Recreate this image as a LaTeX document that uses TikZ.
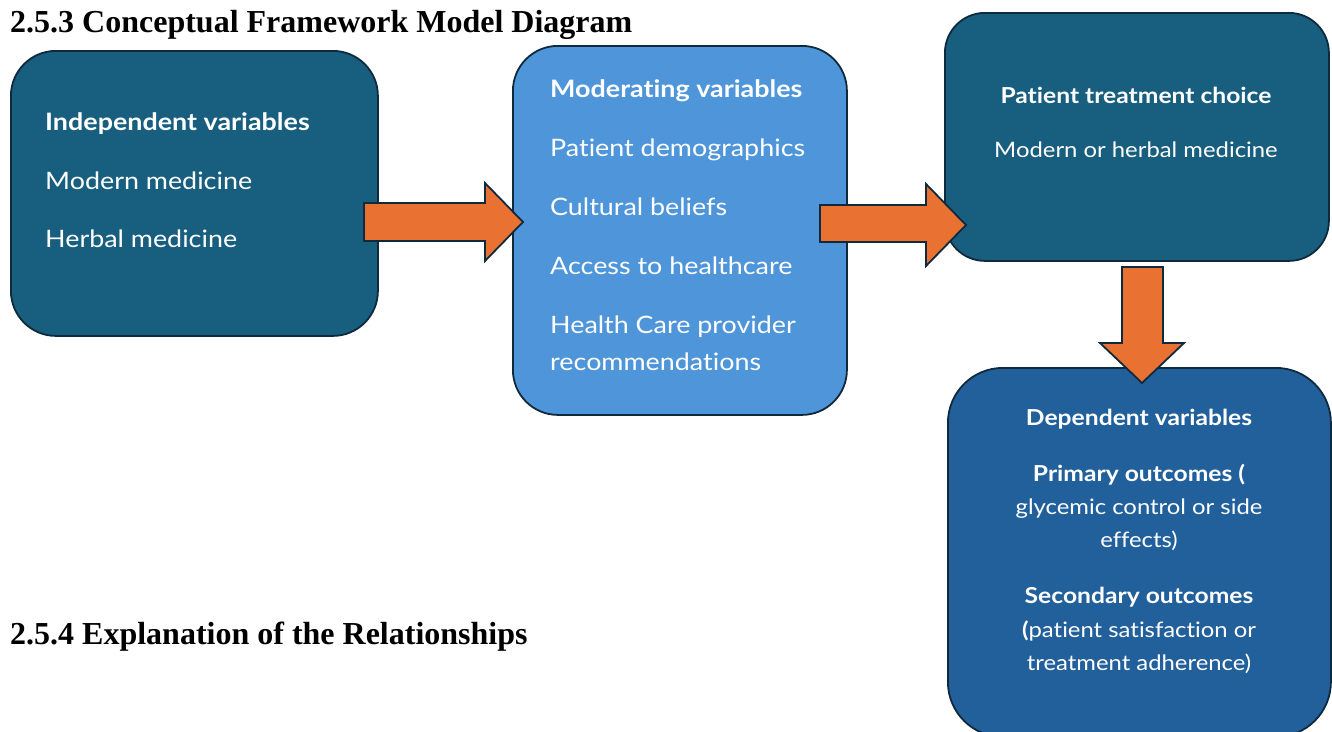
\documentclass[tikz,border=0pt]{standalone}
\usepackage{fontspec}
\setmainfont{Liberation Serif}
\newfontfamily\boxfont[FakeStretch=1.12, Ligatures=NoCommon]{Lato}
\begin{document}
\begin{tikzpicture}[x=1pt,y=-1pt]
\definecolor{tealbox}{HTML}{185E7F}
\definecolor{lightbox}{HTML}{4E95D9}
\definecolor{bluebox}{HTML}{22609C}
\definecolor{edgeline}{HTML}{0F2A3D}
\definecolor{arrowfill}{HTML}{E97132}
\tikzset{
  box/.style={draw=edgeline, line width=1.8pt, rounded corners=45pt, anchor=north west, inner sep=0pt},
  blockarrow/.style={draw=edgeline, line width=1.8pt, fill=arrowfill, line join=miter},
  txt/.style={text=white, inner sep=0pt, font=\boxfont\fontsize{24}{28}\selectfont},
  txtsm/.style={text=white, inner sep=0pt, font=\boxfont\fontsize{22}{26}\selectfont},
  txtsmreg/.style={text=white, inner sep=0pt, font=\boxfont\fontsize{21.3}{26}\selectfont},
  heading/.style={inner sep=0pt, anchor=base west, font=\bfseries\fontsize{32}{36}\selectfont}
}
\clip (0,0) rectangle (1332,731);
\fill[white] (0,0) rectangle (1332,731);

% section headings
\node[heading] (h1) at (10,32) {2.5.3 Conceptual Framework Model Diagram};
\node[heading] (h2) at (10,644) {2.5.4 Explanation of the Relationships};

% boxes
\node[box, fill=tealbox, minimum width=367pt, minimum height=285pt] (indep) at (10,50) {};
\node[box, fill=lightbox, minimum width=334pt, minimum height=369pt] (moder) at (512,45) {};
\node[box, fill=tealbox, rounded corners=40pt, minimum width=384pt, minimum height=248pt] (choice) at (944,12) {};
\node[box, fill=bluebox, rounded corners=55pt, minimum width=383pt, minimum height=369pt] (dep) at (947,367) {};

% block arrows between the boxes
\draw[blockarrow] (364,203) -- (485,203) -- (485,183) -- (523,222) -- (485,261) -- (485,241) -- (364,241) -- cycle;
\draw[blockarrow] (820,205) -- (926,205) -- (926,184) -- (966,225) -- (926,266) -- (926,242) -- (820,242) -- cycle;
\draw[blockarrow] (1122,267) -- (1163,267) -- (1163,343) -- (1184,343) -- (1142,383) -- (1100,343) -- (1122,343) -- cycle;

% independent variables
\node[txt, anchor=base west] (i1) at (45,130) {\bfseries Independent variables};
\node[txt, anchor=base west] (i2) at (45,189) {Modern medicine};
\node[txt, anchor=base west] (i3) at (45,247) {Herbal medicine};

% moderating variables
\node[txt, anchor=base west] (m1) at (550,97) {\bfseries Moderating variables};
\node[txt, anchor=base west] (m2) at (550,156) {Patient demographics};
\node[txt, anchor=base west] (m3) at (550,215) {Cultural beliefs};
\node[txt, anchor=base west] (m4) at (550,274) {Access to healthcare};
\node[txt, anchor=base west] (m5) at (550,333) {Health Care provider};
\node[txt, anchor=base west] (m6) at (550,370) {recommendations};

% treatment choice
\node[txtsm, anchor=base] (c1) at (1136,103) {\bfseries Patient treatment choice};
\node[txtsmreg, anchor=base] (c2) at (1136,157) {Modern or herbal medicine};

% dependent variables
\node[txtsm, anchor=base] (d1) at (1139,425) {\bfseries Dependent variables};
\node[txtsm, anchor=base] (d2) at (1139,481) {\bfseries Primary outcomes (};
\node[txtsmreg, anchor=base] (d3) at (1139,514) {glycemic control or side};
\node[txtsmreg, anchor=base] (d4) at (1139,547) {effects)};
\node[txtsm, anchor=base] (d5) at (1139,603) {\bfseries Secondary outcomes};
\node[txtsmreg, anchor=base] (d6) at (1139,637) {{\bfseries (}patient satisfaction or};
\node[txtsmreg, anchor=base] (d7) at (1139,670) {treatment adherence)};
\end{tikzpicture}
\end{document}
